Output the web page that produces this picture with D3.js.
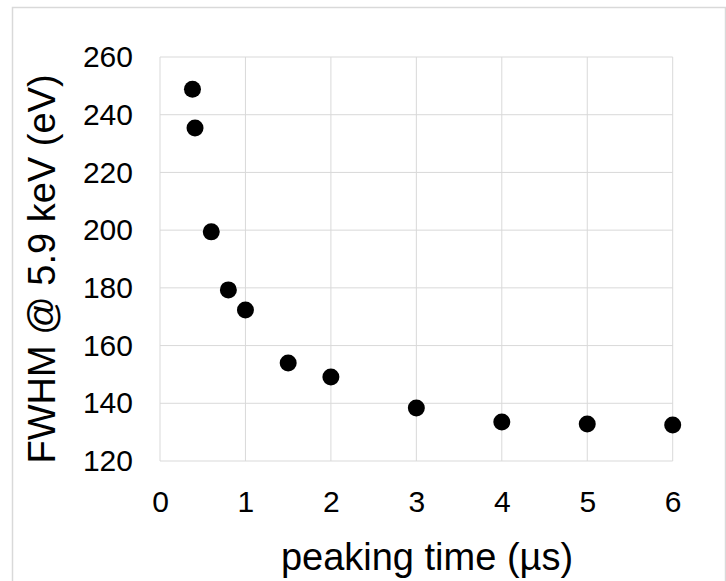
<!DOCTYPE html>
<html>
<head>
<meta charset="utf-8">
<script src="https://cdn.jsdelivr.net/npm/d3@7"></script>
<style>
  body { margin: 0; background: #fff; }
  svg { display: block; font-family: "Liberation Sans", Arial, sans-serif; }
</style>
</head>
<body>
<svg id="wrapper" width="726" height="581"></svg>
<script>
// peaking time (µs) vs FWHM @ 5.9 keV (eV)
let peakingTime = [0.38, 0.41, 0.6, 0.8, 1.0, 1.5, 2.0, 3.0, 4.0, 5.0, 6.0];
let fwhm = [248.8, 235.4, 199.4, 179.3, 172.3, 154.0, 149.1, 138.4, 133.5, 132.8, 132.5];
let xTicks = [0, 1, 2, 3, 4, 5, 6];
let yTicks = [120, 140, 160, 180, 200, 220, 240, 260];

let plotLeft = 160, plotRight = 672.7, plotTop = 57, plotBottom = 461;
let gridColor = '#d9d9d9';

let svg = d3.select('#wrapper');

// outer chart frame
svg.append('rect')
  .attr('x', 12.5).attr('y', 7.5)
  .attr('width', 713).attr('height', 600)
  .attr('fill', 'none')
  .attr('stroke', gridColor)
  .attr('stroke-width', 1.5);

let xScale = d3.scaleLinear().domain([0, 6]).range([plotLeft, plotRight]);
let yScale = d3.scaleLinear().domain([120, 260]).range([plotBottom, plotTop]);

// gridlines
svg.append('g')
  .selectAll('line')
  .data(xTicks)
  .join('line')
  .attr('x1', d => xScale(d)).attr('x2', d => xScale(d))
  .attr('y1', plotTop).attr('y2', plotBottom)
  .attr('stroke', gridColor).attr('stroke-width', 1);

svg.append('g')
  .selectAll('line')
  .data(yTicks)
  .join('line')
  .attr('x1', plotLeft).attr('x2', plotRight)
  .attr('y1', d => yScale(d)).attr('y2', d => yScale(d))
  .attr('stroke', gridColor).attr('stroke-width', 1);

// axes, labels only
let xAxis = d3.axisBottom(xScale).tickValues(xTicks).tickSize(0).tickPadding(0).tickFormat(d3.format('d'));
let gx = svg.append('g')
  .attr('transform', 'translate(0,' + plotBottom + ')')
  .call(xAxis);
gx.select('.domain').remove();
gx.selectAll('text')
  .attr('y', 51)
  .attr('dy', null)
  .attr('font-size', 30)
  .attr('font-family', '"Liberation Sans", Arial, sans-serif')
  .attr('fill', '#000');

let yAxis = d3.axisLeft(yScale).tickValues(yTicks).tickSize(0).tickPadding(27).tickFormat(d3.format('d'));
let gy = svg.append('g')
  .attr('transform', 'translate(' + plotLeft + ',0)')
  .call(yAxis);
gy.select('.domain').remove();
gy.selectAll('text')
  .attr('font-size', 30)
  .attr('font-family', '"Liberation Sans", Arial, sans-serif')
  .attr('fill', '#000');

// points
let data = peakingTime.map((t, i) => ({t: t, v: fwhm[i]}));
svg.append('g')
  .selectAll('circle')
  .data(data)
  .join('circle')
  .attr('cx', d => xScale(d.t))
  .attr('cy', d => yScale(d.v))
  .attr('r', 8.5)
  .attr('fill', '#000');

// axis titles
svg.append('text')
  .attr('x', 427)
  .attr('y', 570)
  .attr('text-anchor', 'middle')
  .attr('font-size', 38)
  .attr('fill', '#000')
  .text('peaking time (µs)');

svg.append('text')
  .attr('transform', 'translate(55,269) rotate(-90)')
  .attr('text-anchor', 'middle')
  .attr('font-size', 38)
  .attr('fill', '#000')
  .text('FWHM @ 5.9 keV (eV)');
</script>
</body>
</html>
